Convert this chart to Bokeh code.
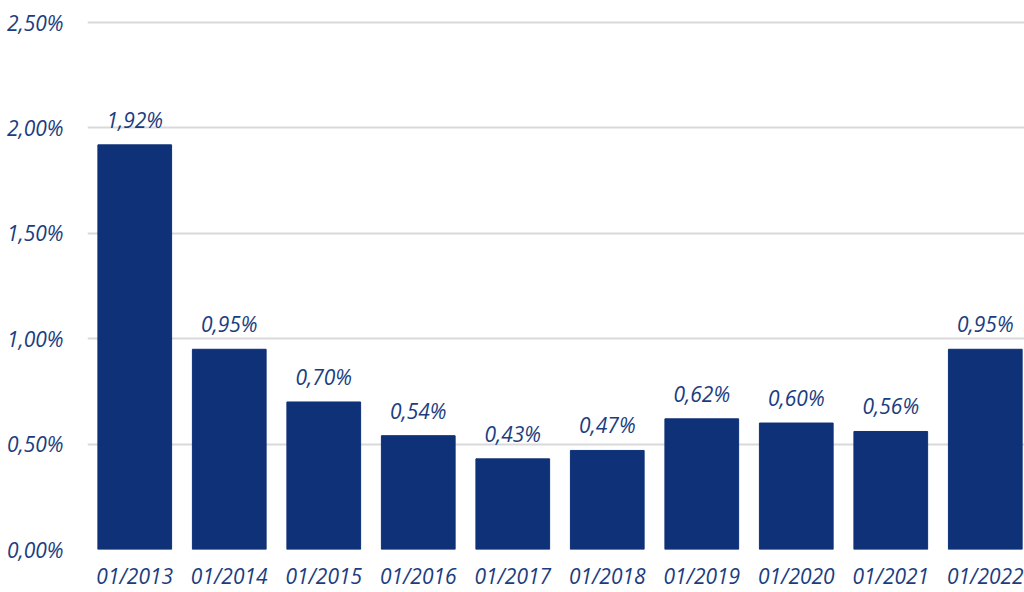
from bokeh.plotting import figure
from bokeh.models import ColumnDataSource, FixedTicker, Range1d
from bokeh.core.properties import value
from bokeh.embed import file_html
from bokeh.resources import INLINE

categories = ["01/2013", "01/2014", "01/2015", "01/2016", "01/2017",
              "01/2018", "01/2019", "01/2020", "01/2021", "01/2022"]
values = [1.92, 0.95, 0.70, 0.54, 0.43, 0.47, 0.62, 0.60, 0.56, 0.95]
y_ticks = [0.0, 0.5, 1.0, 1.5, 2.0, 2.5]
y_tick_labels = ["0,00%", "0,50%", "1,00%", "1,50%", "2,00%", "2,50%"]

BAR = "#0E3178"
TXT = "#1B3D7F"
FONT = "Open Sans"

xs = list(range(len(categories)))
labels = [f"{v:.2f}".replace(".", ",") + "%" for v in values]
src = ColumnDataSource(dict(x=xs, top=values, label=labels))

p = figure(width=1024, height=592, output_backend="svg", toolbar_location=None,
           x_range=Range1d(-0.5, 9.415), y_range=Range1d(0, 2.51),
           min_border_left=87, min_border_right=0, min_border_top=20, min_border_bottom=43)
p.outline_line_color = None
p.background_fill_color = "white"
p.border_fill_color = "white"

p.vbar(x="x", top="top", width=0.78, source=src, color=BAR, line_color=BAR)
p.text(x="x", y="top", text="label", source=src, text_align="center",
       text_baseline="bottom", y_offset=-11, text_font=value(FONT),
       text_font_style="italic", text_font_size="21px", text_color=TXT)

p.xgrid.grid_line_color = None
p.ygrid.grid_line_color = "#D9D9D9"
p.ygrid.grid_line_width = 2
p.yaxis.ticker = FixedTicker(ticks=y_ticks)
p.yaxis.major_label_overrides = {t: l for t, l in zip(y_ticks, y_tick_labels)}
p.xaxis.ticker = FixedTicker(ticks=xs)
p.xaxis.major_label_overrides = {i: c for i, c in zip(xs, categories)}

for ax in (p.xaxis, p.yaxis):
    ax.axis_line_color = None
    ax.major_tick_line_color = None
    ax.minor_tick_line_color = None
    ax.major_tick_out = 0
    ax.major_tick_in = 0
    ax.major_label_text_font = FONT
    ax.major_label_text_font_style = "italic"
    ax.major_label_text_font_size = "21px"
    ax.major_label_text_color = TXT
p.yaxis.major_label_standoff = 24
p.xaxis.major_label_standoff = 12

open("out.html", "w").write(file_html(p, INLINE))
